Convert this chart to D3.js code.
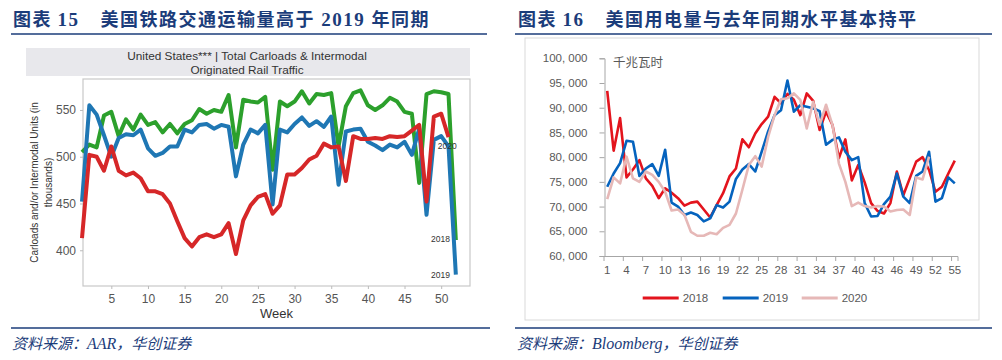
<!DOCTYPE html>
<html><head><meta charset="utf-8">
<script src="https://cdn.jsdelivr.net/npm/d3@7"></script>
<style>body{margin:0;background:#fff}svg{display:block}</style>
</head><body>
<script>
// ---------- Left chart data (AAR weekly rail traffic, thousands) ----------
const railWeeks = [1,2,3,4,5,6,7,8,9,10,11,12,13,14,15,16,17,18,19,20,21,22,23,24,25,26,27,28,29,30,31,32,33,34,35,36,37,38,39,40,41,42,43,44,45,46,47,48,49,50,51,52];
const rail2018 = [505,513,510,544,548,522,540,529,545,534,537,526,535,525,535,539,551,546,550,548,566,510,561,559,558,564,486,559,554,559,570,557,567,566,568,511,554,568,571,555,550,555,563,559,548,546,472,567,570,569,567,411];
const rail2019 = [452,555,545,523,500,520,524,523,529,509,501,504,511,511,529,526,534,535,530,534,532,479,513,529,525,534,449,529,526,535,542,533,538,532,543,470,527,529,530,516,512,507,513,510,516,502,530,438,518,522,511,374];
const rail2020 = [413,502,500,485,511,485,480,483,477,463,463,460,450,431,413,404,414,417,414,417,429,396,432,448,457,460,439,448,481,481,488,497,501,514,510,511,474,522,519,519,520,519,522,521,522,528,534,452,543,546,521];
const railYTicks = [400,450,500,550];
const railXTicks = [5,10,15,20,25,30,35,40,45,50];

// ---------- Right chart data (US weekly power output, GWh) ----------
const powerWeeks = [1,2,3,4,5,6,7,8,9,10,11,12,13,14,15,16,17,18,19,20,21,22,23,24,25,26,27,28,29,30,31,32,33,34,35,36,37,38,39,40,41,42,43,44,45,46,47,48,49,50,51,52,53,54,55];
const power2018 = [93400,81300,87900,75900,77500,79400,75700,74200,71700,73700,72800,71700,70200,70800,71000,69400,67800,70300,72700,76100,77700,83600,82000,84800,86700,88200,92200,90900,92800,91600,88500,92900,91400,85500,89200,86500,79800,83600,75300,78400,74900,70700,69100,68600,70700,77100,72300,75700,79100,80000,77400,73000,74000,76700,79300];
const power2019 = [74000,76700,78800,83300,83100,76200,77700,78600,76200,81500,70800,70000,68300,68800,68300,67000,67600,70300,69800,71000,75600,77500,78600,77100,81100,85200,88500,89500,95500,89200,90500,90200,89900,89300,82500,83500,84000,81100,79400,80000,70700,68000,68100,70500,72000,76700,72000,70700,76200,77100,81100,71000,71700,75900,74700];
const power2020 = [71500,75900,74700,80100,75700,75000,77100,76400,75000,73000,69200,69400,68300,64900,64100,64100,64700,64400,65700,66300,68600,73400,78400,80200,78100,84100,88500,91700,91900,92900,91600,85800,91200,86500,90600,86500,78700,75000,70100,70800,70100,69800,70100,70000,69000,69300,69400,68300,75900,75500,80100];
const powerYTicks = [60000,65000,70000,75000,80000,85000,90000,95000,100000];
const powerXTicks = [1,4,7,10,13,16,19,22,25,28,31,34,37,40,43,46,49,52,55];

const W = 1002, H = 360;
const svg = d3.select("body").append("svg").attr("width", W).attr("height", H);
svg.append("rect").attr("width", W).attr("height", H).attr("fill", "#fff");

const NAVY = "#1b3c7a";
const CJK = "'Noto Sans CJK SC', sans-serif";
const SANS = "'Liberation Sans', Arial, sans-serif";

// ---------- Headers ----------
function header(x, num, title, lineX0, lineX1) {
  const t = svg.append("text").attr("x", x).attr("y", 26).attr("fill", NAVY)
    .attr("font-size", 18).attr("font-weight", "bold").attr("font-family", CJK)
    .attr("letter-spacing", 1.5);
  t.append("tspan").text("图表 ");
  t.append("tspan").attr("font-family", "'Liberation Serif', serif").attr("font-size", 19).text(num);
  t.append("tspan").attr("dx", 21).text(title[0]);
  if (title[1]) {
    t.append("tspan").attr("font-family", "'Liberation Serif', serif").attr("font-size", 19).text(" " + title[1] + " ");
    t.append("tspan").text(title[2]);
  }
  svg.append("line").attr("x1", lineX0).attr("x2", lineX1).attr("y1", 34).attr("y2", 34)
    .attr("stroke", NAVY).attr("stroke-width", 1.5);
}
header(13, "15", ["美国铁路交通运输量高于", "2019", "年同期"], 11, 487);
header(518, "16", ["美国用电量与去年同期水平基本持平"], 515, 992);

// ---------- Footers ----------
function footer(x, src, lineX0, lineX1) {
  svg.append("line").attr("x1", lineX0).attr("x2", lineX1).attr("y1", 328).attr("y2", 328)
    .attr("stroke", NAVY).attr("stroke-width", 1.5);
  const t = svg.append("text").attr("x", x).attr("y", 349).attr("fill", NAVY)
    .attr("font-size", 15).attr("font-style", "italic").attr("font-family", CJK);
  t.append("tspan").text("资料来源：");
  t.append("tspan").attr("font-family", "'Liberation Serif', serif").attr("font-size", 16).text(src);
  t.append("tspan").text("，华创证券");
}
footer(12, "AAR", 11, 490);
footer(517, "Bloomberg", 515, 992);

// ================= LEFT CHART =================
{
  const L = {x0: 83, x1: 470, y0: 79, y1: 286};
  // title box
  svg.append("rect").attr("x", 26).attr("y", 48).attr("width", 444).attr("height", 28).attr("fill", "#e8e8ec");
  svg.append("text").attr("x", 247).attr("y", 60).attr("text-anchor", "middle").attr("font-family", SANS)
    .attr("font-size", 11.8).attr("fill", "#333").text("United States*** | Total Carloads & Intermodal");
  svg.append("text").attr("x", 247).attr("y", 73.5).attr("text-anchor", "middle").attr("font-family", SANS)
    .attr("font-size", 11.8).attr("fill", "#333").text("Originated Rail Traffic");

  const x = d3.scaleLinear().domain([1, 54]).range([82, 470.5]);
  const y = d3.scaleLinear().domain([361.8, 583.1]).range([L.y1, L.y0]);

  svg.append("rect").attr("x", L.x0).attr("y", L.y0).attr("width", L.x1 - L.x0).attr("height", L.y1 - L.y0)
    .attr("fill", "none").attr("stroke", "#c8c8c8").attr("stroke-width", 1.2);

  const yAx = svg.append("g").attr("transform", `translate(${L.x0},0)`)
    .call(d3.axisLeft(y).tickValues(railYTicks).tickSize(3).tickPadding(4));
  yAx.select(".domain").remove();
  yAx.selectAll("line").attr("stroke", "#bbb");
  yAx.selectAll("text").attr("font-family", SANS).attr("font-size", 12).attr("fill", "#555");

  const xAx = svg.append("g").attr("transform", `translate(0,${L.y1})`)
    .call(d3.axisBottom(x).tickValues(railXTicks).tickSize(3).tickPadding(5));
  xAx.select(".domain").remove();
  xAx.selectAll("line").attr("stroke", "#bbb");
  xAx.selectAll("text").attr("font-family", SANS).attr("font-size", 12).attr("fill", "#555");

  svg.append("text").attr("x", 276.5).attr("y", 318).attr("text-anchor", "middle").attr("font-family", SANS)
    .attr("font-size", 13).attr("fill", "#333").text("Week");

  const yt = svg.append("text").attr("transform", "translate(38,182.5) rotate(-90)").attr("text-anchor", "middle")
    .attr("font-family", SANS).attr("font-size", 10).attr("fill", "#333");
  yt.append("tspan").attr("x", 0).attr("dy", 0).text("Carloads and/or Intermodal Units (in");
  yt.append("tspan").attr("x", 0).attr("dy", 14).text("thousands)");

  const line = d3.line().x((d, i) => x(railWeeks[i])).y(d => y(d));
  const series = [[rail2018, "#2ca02c"], [rail2019, "#1f77b4"], [rail2020, "#d62728"]];
  series.forEach(([data, c]) => {
    svg.append("path").datum(data).attr("d", line).attr("fill", "none").attr("stroke", c)
      .attr("stroke-width", 4).attr("stroke-linejoin", "round").attr("stroke-linecap", "butt");
  });

  const lbl = [["2020", 456.7, 149], ["2018", 450, 242], ["2019", 450, 278]];
  lbl.forEach(([t, lx, ly]) => svg.append("text").attr("x", lx).attr("y", ly).attr("text-anchor", "end")
    .attr("font-family", SANS).attr("font-size", 8.5).attr("fill", "#333").text(t));
}

// ================= RIGHT CHART =================
{
  svg.append("rect").attr("x", 525).attr("y", 38).attr("width", 454).attr("height", 282)
    .attr("fill", "#fff").attr("stroke", "#d9d9d9").attr("stroke-width", 1);

  const x = d3.scaleBand().domain(powerWeeks).range([604, 958]);
  const cx = w => x(w) + x.bandwidth() / 2;
  const y = d3.scaleLinear().domain([60000, 100000]).range([256, 58.3]);
  const GREY = "#595959";

  const fmt = d => d3.format(",")(d).replace(",", ", ");
  const yAx = svg.append("g").attr("transform", "translate(604.5,0)")
    .call(d3.axisLeft(y).tickValues(powerYTicks).tickFormat(fmt).tickSize(5).tickPadding(12));
  yAx.select(".domain").attr("stroke", "#a6a6a6");
  yAx.selectAll("line").attr("stroke", "#a6a6a6");
  yAx.selectAll("text").attr("font-family", SANS).attr("font-size", 11.5).attr("fill", GREY);

  const xAx = svg.append("g").attr("transform", "translate(0,256.5)")
    .call(d3.axisBottom(x).tickValues(powerXTicks).tickSize(0).tickPadding(9));
  xAx.select(".domain").attr("stroke", "#a6a6a6").attr("d", "M604,0H958");
  xAx.selectAll("text").attr("font-family", SANS).attr("font-size", 11.5).attr("fill", GREY);
  // tick marks at category boundaries
  svg.append("g").selectAll("line").data(powerXTicks.concat([56])).join("line")
    .attr("x1", w => w === 56 ? 958 : x(w)).attr("x2", w => w === 56 ? 958 : x(w))
    .attr("y1", 256.5).attr("y2", 261).attr("stroke", "#a6a6a6");

  svg.append("text").attr("x", 613).attr("y", 67).attr("font-family", CJK).attr("font-size", 12.5)
    .attr("fill", GREY).text("千兆瓦时");

  const line = d3.line().x((d, i) => cx(powerWeeks[i])).y(d => y(d));
  const series = [["2018", power2018, "#e3141d"], ["2019", power2019, "#0563be"], ["2020", power2020, "#e6b8b7"]];
  series.forEach(([n, data, c]) => {
    svg.append("path").datum(data).attr("d", line).attr("fill", "none").attr("stroke", c)
      .attr("stroke-width", 2.6).attr("stroke-linejoin", "round");
  });

  const legX = [642.7, 722.7, 801.7];
  series.forEach(([n, data, c], i) => {
    svg.append("line").attr("x1", legX[i]).attr("x2", legX[i] + 36).attr("y1", 298).attr("y2", 298)
      .attr("stroke", c).attr("stroke-width", 3);
    svg.append("text").attr("x", legX[i] + 40).attr("y", 302).attr("font-family", SANS).attr("font-size", 11.5)
      .attr("fill", GREY).text(n);
  });
}
</script>
</body></html>
